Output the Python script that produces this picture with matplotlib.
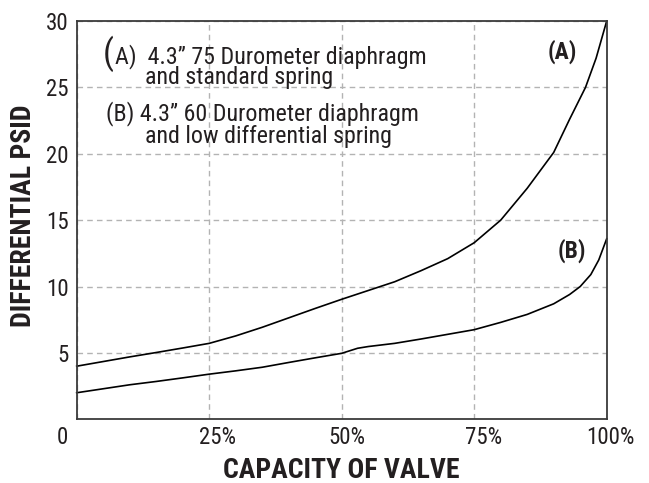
import matplotlib
matplotlib.use("Agg")
import matplotlib.pyplot as plt
import matplotlib.transforms as mtransforms

# curve readings (capacity %, differential psid)
cap_a = [0, 5, 10, 15, 20, 25, 30, 35, 40, 45, 50, 55, 60, 65, 70, 75, 80, 85, 90, 93, 96, 98, 100]
psid_a = [4.0, 4.35, 4.7, 5.03, 5.37, 5.72, 6.28, 6.93, 7.64, 8.35, 9.04, 9.7, 10.36, 11.2, 12.1, 13.3,
          15.0, 17.4, 20.1, 22.6, 25.0, 27.2, 30.0]
cap_b = [0, 5, 10, 15, 20, 25, 30, 35, 40, 45, 50, 53, 55, 60, 65, 70, 75, 80, 85, 90, 93, 95, 97, 98.5, 100]
psid_b = [2.0, 2.3, 2.6, 2.85, 3.12, 3.4, 3.65, 3.92, 4.28, 4.63, 4.97, 5.35, 5.48, 5.72, 6.05, 6.4, 6.75,
          7.3, 7.9, 8.7, 9.4, 10.0, 10.9, 12.0, 13.6]

x_ticks = [0, 25, 50, 75, 100]
x_labels = ["0", "25%", "50%", "75%", "100%"]
y_ticks = [5, 10, 15, 20, 25, 30]
y_labels = ["5", "10", "15", "20", "25", "30"]

plt.rcParams["font.family"] = ["Roboto Condensed", "DejaVu Sans"]

ink = "#231f20"

fig = plt.figure(figsize=(6.49, 4.83), dpi=100)
ax = fig.add_axes([76.7 / 649, 1 - 419.3 / 483, 530 / 649, 398.3 / 483])

ax.plot(cap_a, psid_a, color="black", lw=1.2, clip_on=False)
ax.plot(cap_b, psid_b, color="black", lw=1.2, clip_on=False)

ax.set_xlim(0, 100)
ax.set_ylim(0, 30)
ax.set_xticks(x_ticks)
ax.set_xticklabels(x_labels)
ax.set_yticks(y_ticks)
ax.set_yticklabels(y_labels)
ax.tick_params(length=0, labelsize=16.5, colors=ink)
ax.tick_params(axis="x", pad=5)
ax.tick_params(axis="y", pad=6)

# numbers sit on the gridline, the % hangs to the right
shifts = [-14, 8, 5, 9, 4]
for lab, dx in zip(ax.get_xticklabels(), shifts):
    lab.set_transform(lab.get_transform() + mtransforms.ScaledTranslation(dx / 100, 0, fig.dpi_scale_trans))

ax.grid(True, color="#b3b3b3", linestyle=(0, (4, 3)), lw=1.0)
ax.set_axisbelow(True)
for s in ax.spines.values():
    s.set_color("#3a3a3a")
    s.set_linewidth(1.3)

ax.set_xlabel("CAPACITY OF VALVE", fontsize=20, fontweight="bold", color=ink)
ax.set_ylabel("DIFFERENTIAL PSID", fontsize=20, fontweight="bold", color=ink)
ax.xaxis.set_label_coords(0.5, -0.095)
ax.yaxis.set_label_coords(-0.0755, 0.51)

txt = dict(fontsize=17.3, color=ink, va="baseline", ha="left")
ax.text(5.0, 26.8, "(", fontsize=25, color=ink, va="baseline", ha="left")
ax.text(7.2, 26.8, "A)  4.3\u201d 75 Durometer diaphragm", **txt)
ax.text(12.9, 25.25, "and standard spring", **txt)
ax.text(5.5, 22.54, "(B) 4.3\u201d 60 Durometer diaphragm", **txt)
ax.text(12.9, 20.78, "and low differential spring", **txt)

ax.text(91.7, 27.68, "(A)", fontsize=17, fontweight="bold", color=ink, ha="center", va="center")
ax.text(93.4, 12.69, "(B)", fontsize=17, fontweight="bold", color=ink, ha="center", va="center")

fig.savefig("out.png", dpi=100)
